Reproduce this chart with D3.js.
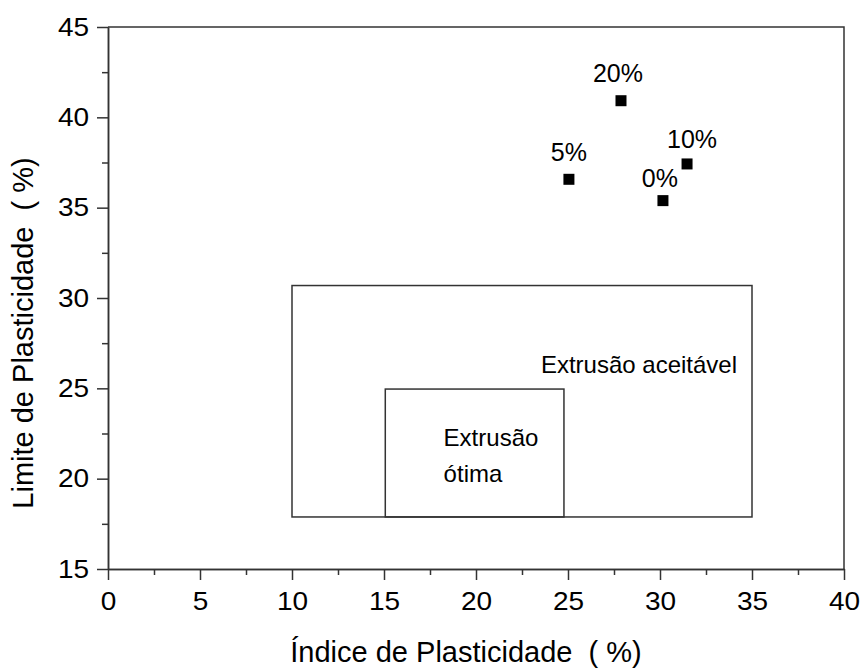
<html>
<head>
<script src="https://cdnjs.cloudflare.com/ajax/libs/d3/7.8.5/d3.min.js"></script>
<style>
  body { margin: 0; background: #fff; }
  text { font-family: Arial, "Liberation Sans", sans-serif; white-space: pre; }
</style>
</head>
<body>
<svg id="plot" width="861" height="668"></svg>
<script>

// data
var labels = ["0%", "5%", "10%", "20%"]
var indice = [30.16, 25.05, 31.47, 27.88]   // Indice de Plasticidade (%)
var limite = [35.39, 36.57, 37.42, 40.92]   // Limite de Plasticidade (%)

// zones [x0, x1, y0, y1]
var zoneAceitavel = [10, 35, 17.88, 30.69]
var zoneOtima = [15.07, 24.78, 17.88, 24.96]

var xTicks = [0, 5, 10, 15, 20, 25, 30, 35, 40]
var yTicks = [15, 20, 25, 30, 35, 40, 45]
var xMinor = [2.5, 7.5, 12.5, 17.5, 22.5, 27.5, 32.5, 37.5]
var yMinor = [17.5, 22.5, 27.5, 32.5, 37.5, 42.5]

var notes = [
	{ text: "Extrusão aceitável", x: 23.53, y: 25.86 },
	{ text: "Extrusão", x: 18.24, y: 21.82 },
	{ text: "ótima", x: 18.24, y: 19.79 }
]

// label nudges in px, keyed by label
var labelNudge = { "0%": [-3, -14], "5%": [0, -18], "10%": [5, -16], "20%": [-3, -19] }

var margin = { left: 108, top: 27, right: 17, bottom: 99 }
var W = 861, H = 668
var svg = d3.select("#plot")

var x = d3.scaleLinear().domain([0, 40]).range([margin.left, W - margin.right])
var y = d3.scaleLinear().domain([15, 45]).range([H - margin.bottom, margin.top])

var lineColor = "#333"
var textColor = "#000"
var stretch = 1.12   // the original tick digits are a bit wider than Arial

// zone rectangles
;[zoneAceitavel, zoneOtima].forEach(function(z) {
	svg.append("rect")
	   .attr("x", x(z[0]))
	   .attr("y", y(z[3]))
	   .attr("width", x(z[1]) - x(z[0]))
	   .attr("height", y(z[2]) - y(z[3]))
	   .attr("fill", "none")
	   .attr("stroke", lineColor)
	   .attr("stroke-width", 1.5)
})

notes.forEach(function(n) {
	svg.append("text")
	   .attr("x", x(n.x))
	   .attr("y", y(n.y))
	   .attr("font-size", 24)
	   .attr("fill", textColor)
	   .text(n.text)
})

// frame top + right
svg.append("path")
   .attr("d", "M" + x(0) + "," + y(45) + "H" + x(40) + "V" + y(15))
   .attr("fill", "none")
   .attr("stroke", lineColor)
   .attr("stroke-width", 1.5)

function styleAxis(g) {
	g.selectAll("path, line").attr("stroke", lineColor).attr("stroke-width", 1.5)
	g.selectAll("text").attr("font-size", 25).attr("fill", textColor)
		.attr("font-family", "Arial, 'Liberation Sans', sans-serif")
}

// bottom axis
svg.append("g")
   .attr("transform", "translate(0," + y(15) + ")")
   .call(d3.axisBottom(x).tickValues(xTicks).tickSize(11).tickPadding(12).tickSizeOuter(0))
   .call(styleAxis)
   .selectAll(".tick text")
   .attr("transform", "scale(" + stretch + ",1)")
svg.append("g")
   .attr("transform", "translate(0," + y(15) + ")")
   .call(d3.axisBottom(x).tickValues(xMinor).tickSize(6).tickFormat("").tickSizeOuter(0))
   .call(styleAxis)

// left axis
svg.append("g")
   .attr("transform", "translate(" + x(0) + ",0)")
   .call(d3.axisLeft(y).tickValues(yTicks).tickSize(11).tickPadding(8).tickSizeOuter(0))
   .call(styleAxis)
   .selectAll(".tick text")
   .attr("x", -19 / stretch)
   .attr("transform", "scale(" + stretch + ",1)")
svg.append("g")
   .attr("transform", "translate(" + x(0) + ",0)")
   .call(d3.axisLeft(y).tickValues(yMinor).tickSize(6).tickFormat("").tickSizeOuter(0))
   .call(styleAxis)

// points
var pts = labels.map(function(l, i) { return { label: l, xi: indice[i], yi: limite[i] } })
svg.selectAll("rect.pt").data(pts).enter().append("rect")
   .attr("class", "pt")
   .attr("x", function(d) { return x(d.xi) - 5.5 })
   .attr("y", function(d) { return y(d.yi) - 5.5 })
   .attr("width", 11)
   .attr("height", 11)
   .attr("fill", "#000")

svg.selectAll("text.pl").data(pts).enter().append("text")
   .attr("class", "pl")
   .attr("x", function(d) { return x(d.xi) + labelNudge[d.label][0] })
   .attr("y", function(d) { return y(d.yi) + labelNudge[d.label][1] })
   .attr("text-anchor", "middle")
   .attr("font-size", 25)
   .attr("fill", textColor)
   .text(function(d) { return d.label })

// axis titles
svg.append("text")
   .attr("x", 466)
   .attr("y", 662)
   .attr("text-anchor", "middle")
   .attr("font-size", 29)
   .attr("fill", textColor)
   .text("Índice de Plasticidade  ( %)")

svg.append("text")
   .attr("transform", "translate(33,333) rotate(-90)")
   .attr("text-anchor", "middle")
   .attr("font-size", 29)
   .attr("fill", textColor)
   .text("Limite de Plasticidade  ( %)")

</script>
</body>
</html>
